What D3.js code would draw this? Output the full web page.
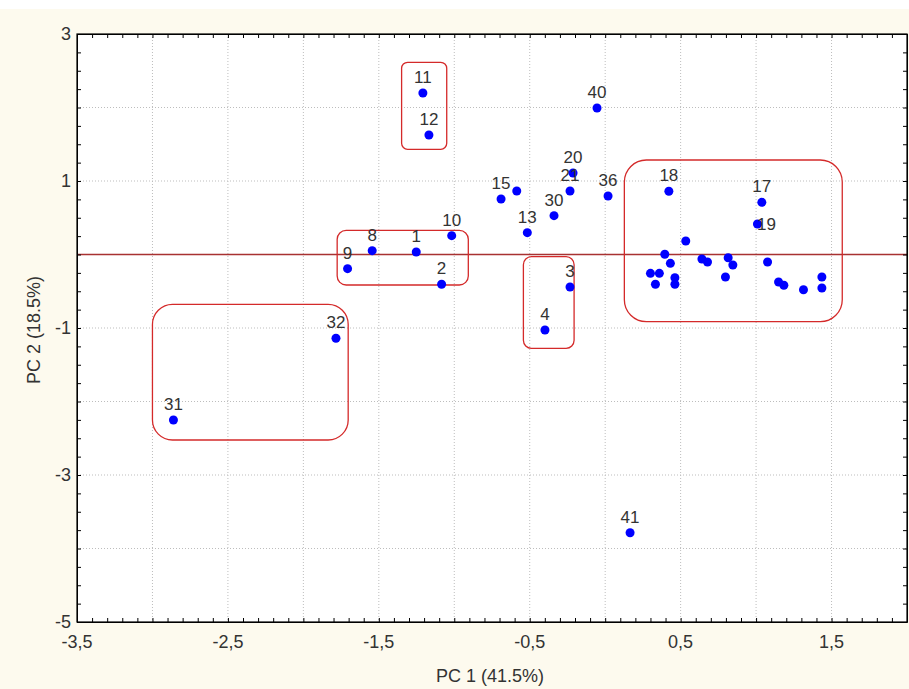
<!DOCTYPE html>
<html>
<head>
<meta charset="utf-8">
<script src="https://d3js.org/d3.v7.min.js"></script>
<style>
body { margin: 0; background: #fff; }
text { font-family: "Liberation Sans", Arial, sans-serif; }
</style>
</head>
<body>
<script>
// labelled points (PC1, PC2)
var labels = ["11", "12", "40", "20", "21", "36", "15", "30", "13", "10", "1", "8", "9", "2", "3", "4", "32", "31", "41", "18", "17", "19"];
var pc1 = [-1.208, -1.168, -0.054, -0.213, -0.233, 0.019, -0.690, -0.339, -0.516, -1.017, -1.252, -1.544, -1.707, -1.084, -0.233, -0.399, -1.784, -2.861, 0.165, 0.422, 1.038, 1.009];
var pc2 = [2.197, 1.626, 1.993, 1.109, 0.864, 0.796, 0.755, 0.528, 0.297, 0.256, 0.034, 0.052, -0.193, -0.405, -0.442, -1.027, -1.140, -2.252, -3.785, 0.860, 0.710, 0.415];

// points whose labels are hidden
var pc1Unl = [-0.586, 0.534, 0.395, 0.432, 0.300, 0.359, 0.333, 0.462, 0.462, 0.641, 0.678, 0.815, 0.846, 0.797, 1.076, 1.149, 1.184, 1.314, 1.436, 1.436];
var pc2Unl = [0.864, 0.184, 0.003, -0.120, -0.256, -0.256, -0.405, -0.316, -0.405, -0.061, -0.102, -0.044, -0.143, -0.306, -0.102, -0.374, -0.419, -0.479, -0.306, -0.456];

// group boxes [x0, x1, y0, y1]
var groups = [
  [-1.349, -1.050, 1.431, 2.615],
  [-1.776, -0.907, -0.415, 0.329],
  [-0.542, -0.206, -1.276, -0.030],
  [-3.000, -1.703, -2.524, -0.678],
  [0.127, 1.571, -0.914, 1.286]
];
var groupRadius = [6, 9, 8, 20, 22];

var xTicks = [-3.5, -2.5, -1.5, -0.5, 0.5, 1.5];
var yTicks = [3, 1, -1, -3, -5];

var W = 909, H = 689;
var pL = 77, pT = 34, pR = 907, pB = 622;

var svg = d3.select("body").append("svg")
  .attr("width", W)
  .attr("height", H);

svg.append("rect").attr("x", 0).attr("y", 9).attr("width", W).attr("height", H - 9).attr("fill", "#fdfaee");

var x = d3.scaleLinear().domain([-3.5, 2.0]).range([pL, pR]);
var y = d3.scaleLinear().domain([-5, 3]).range([pB, pT]);

svg.append("rect").attr("x", pL).attr("y", pT).attr("width", pR - pL).attr("height", pB - pT).attr("fill", "#fff");

// grid
var g = svg.append("g");
d3.range(-3.0, 2.0, 0.5).forEach(function(v) {
  g.append("line").attr("x1", x(v)).attr("x2", x(v)).attr("y1", pT).attr("y2", pB)
    .attr("stroke", "#bdbdbd").attr("stroke-dasharray", "1,2");
});
d3.range(-4, 3, 1).forEach(function(v) {
  g.append("line").attr("x1", pL).attr("x2", pR).attr("y1", y(v)).attr("y2", y(v))
    .attr("stroke", "#bdbdbd").attr("stroke-dasharray", "1,2");
});

// zero line
svg.append("line").attr("x1", pL).attr("x2", pR).attr("y1", y(0)).attr("y2", y(0))
  .attr("stroke", "#a83232").attr("stroke-width", 1.3);

// axes (ticks inside)
var xMinor = d3.range(-35, 21).map(function(d) { return d / 10; });
var yMinor = d3.range(-20, 13).map(function(d) { return d / 4; });
svg.append("g").attr("transform", "translate(0," + pB + ")")
  .call(d3.axisBottom(x).tickValues(xMinor).tickSizeInner(-4).tickSizeOuter(0).tickFormat(""));
svg.append("g").attr("transform", "translate(0," + pT + ")")
  .call(d3.axisTop(x).tickValues(xMinor).tickSizeInner(-4).tickSizeOuter(0).tickFormat(""));
svg.append("g").attr("transform", "translate(" + pL + ",0)")
  .call(d3.axisLeft(y).tickValues(yMinor).tickSizeInner(-4).tickSizeOuter(0).tickFormat(""));
svg.append("g").attr("transform", "translate(" + pR + ",0)")
  .call(d3.axisRight(y).tickValues(yMinor).tickSizeInner(-4).tickSizeOuter(0).tickFormat(""));
svg.selectAll(".domain").attr("stroke", "#000");

svg.append("rect").attr("x", pL).attr("y", pT).attr("width", pR - pL).attr("height", pB - pT)
  .attr("fill", "none").attr("stroke", "#000").attr("stroke-width", 1.2);

// tick labels
xTicks.forEach(function(v) {
  svg.append("text").attr("x", x(v)).attr("y", pB + 26)
    .attr("text-anchor", "middle").style("font-size", "18px").attr("fill", "#333")
    .text(String(v).replace(".", ","));
});
yTicks.forEach(function(v) {
  svg.append("text").attr("x", pL - 6).attr("y", y(v) + 6)
    .attr("text-anchor", "end").style("font-size", "18px").attr("fill", "#333")
    .text(v);
});

svg.append("text").attr("x", 490).attr("y", 682).attr("text-anchor", "middle")
  .style("font-size", "18px").attr("fill", "#333").text("PC 1 (41.5%)");
svg.append("text").attr("transform", "translate(40,330) rotate(-90)").attr("text-anchor", "middle")
  .style("font-size", "18px").attr("fill", "#333").text("PC 2 (18.5%)");

// group boxes
groups.forEach(function(b, i) {
  svg.append("rect")
    .attr("x", x(b[0])).attr("y", y(b[3]))
    .attr("width", x(b[1]) - x(b[0])).attr("height", y(b[2]) - y(b[3]))
    .attr("rx", groupRadius[i]).attr("ry", groupRadius[i])
    .attr("fill", "none").attr("stroke", "#d42a2a").attr("stroke-width", 1.3);
});

// points
var all = pc1.map(function(v, i) { return [v, pc2[i]]; })
  .concat(pc1Unl.map(function(v, i) { return [v, pc2Unl[i]]; }));
svg.selectAll("circle.pt").data(all).enter().append("circle")
  .attr("class", "pt")
  .attr("cx", function(d) { return x(d[0]); })
  .attr("cy", function(d) { return y(d[1]); })
  .attr("r", 4.5)
  .attr("fill", "#0000ff");

// labels
labels.forEach(function(t, i) {
  var lx = x(pc1[i]), ly = y(pc2[i]) - 10;
  if (t == "19") { lx += 9; ly = y(pc2[i]) + 6; }
  svg.append("text").attr("x", lx).attr("y", ly)
    .attr("text-anchor", "middle").style("font-size", "17px").attr("fill", "#333")
    .text(t);
});
</script>
</body>
</html>
